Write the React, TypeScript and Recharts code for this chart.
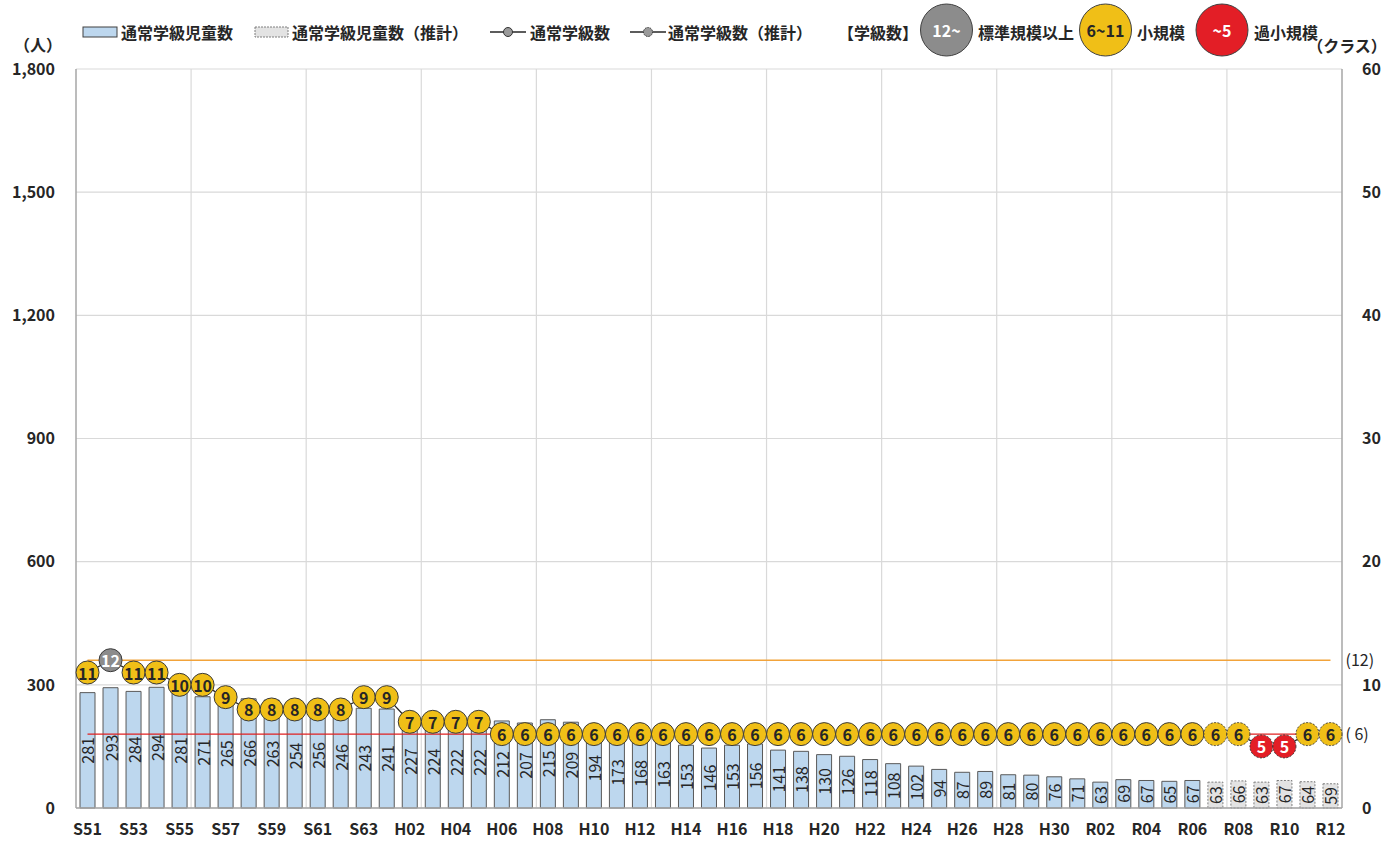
import React from 'react';
import {
  ComposedChart,
  Bar,
  Line,
  XAxis,
  YAxis,
  CartesianGrid,
  ReferenceLine,
  Cell,
  LabelList,
} from 'recharts';

const FONT = '"Noto Sans CJK JP", "Noto Sans", sans-serif';

const categories = [
  'S51', 'S52', 'S53', 'S54', 'S55', 'S56', 'S57', 'S58', 'S59', 'S60', 'S61', 'S62', 'S63',
  'H01', 'H02', 'H03', 'H04', 'H05', 'H06', 'H07', 'H08', 'H09', 'H10',
  'H11', 'H12', 'H13', 'H14', 'H15', 'H16', 'H17', 'H18', 'H19', 'H20',
  'H21', 'H22', 'H23', 'H24', 'H25', 'H26', 'H27', 'H28', 'H29', 'H30',
  'R01', 'R02', 'R03', 'R04', 'R05', 'R06', 'R07', 'R08', 'R09', 'R10', 'R11', 'R12',
];

const students = [
  281, 293, 284, 294, 281, 271, 265, 266, 263, 254, 256, 246, 243,
  241, 227, 224, 222, 222, 212, 207, 215, 209, 194,
  173, 168, 163, 153, 146, 153, 156, 141, 138, 130,
  126, 118, 108, 102, 94, 87, 89, 81, 80, 76,
  71, 63, 69, 67, 65, 67, 63, 66, 63, 67, 64, 59,
];

const classes = [
  11, 12, 11, 11, 10, 10, 9, 8, 8, 8, 8, 8, 9,
  9, 7, 7, 7, 7, 6, 6, 6, 6, 6,
  6, 6, 6, 6, 6, 6, 6, 6, 6, 6,
  6, 6, 6, 6, 6, 6, 6, 6, 6, 6,
  6, 6, 6, 6, 6, 6, 6, 6, 5, 5, 6, 6,
];

const estimateFrom = 'R07';
const leftTicks = [0, 300, 600, 900, 1200, 1500, 1800];
const rightTicks = [0, 10, 20, 30, 40, 50, 60];
const standardClasses = 12;
const minClasses = 6;
const gridEvery = 5;

const estStart = categories.indexOf(estimateFrom);
const data = categories.map((cat, i) => ({
  cat,
  students: students[i],
  classes: classes[i],
  est: i >= estStart,
}));

const GRAY = '#8c8c8c';
const YELLOW = '#f0bf17';
const RED = '#e31e26';
const BLUE = '#bdd7ee';
const EST_FILL = '#e3e3e3';

const classFill = (v: number) => (v >= 12 ? GRAY : v >= 6 ? YELLOW : RED);
const classText = (v: number) => (v >= 12 || v <= 5 ? '#ffffff' : '#262626');

const ClassDot = (props: any) => {
  const { cx, cy, index, payload } = props;
  if (cx == null || cy == null) return <g key={`d${index}`} />;
  const v = payload.classes;
  return (
    <g key={`d${index}`}>
      <circle
        cx={cx}
        cy={cy}
        r={11.5}
        fill={classFill(v)}
        stroke="#3a3a3a"
        strokeWidth={1}
        strokeDasharray={payload.est ? '2 1.5' : undefined}
      />
      <text
        x={cx}
        y={cy}
        textAnchor="middle"
        dominantBaseline="central"
        fontSize={16}
        fontWeight={700}
        fontFamily={FONT}
        fill={classText(v)}
      >
        {v}
      </text>
    </g>
  );
};

const BarLabel = (props: any) => {
  const { x, y, width, height, value, index } = props;
  const cx = Number(x) + Number(width) / 2;
  const cy = Number(y) + Number(height) / 2;
  return (
    <text
      key={`l${index}`}
      x={cx}
      y={cy}
      transform={`rotate(-90 ${cx} ${cy})`}
      textAnchor="middle"
      dominantBaseline="central"
      fontSize={16}
      fontFamily={FONT}
      fill="#262626"
    >
      {value}
    </text>
  );
};

const gridGen = ({ offset }: any) => {
  const step = offset.width / categories.length;
  const pts: number[] = [];
  for (let k = gridEvery; k < categories.length; k += gridEvery) pts.push(offset.left + step * k);
  return pts;
};

const tickStyle = { fontSize: 16, fontWeight: 700, fontFamily: FONT, fill: '#262626' };

const Legend = () => (
  <svg
    width={1400}
    height={62}
    style={{ position: 'absolute', left: 0, top: 0, pointerEvents: 'none' }}
    fontFamily={FONT}
  >
    <g fontSize={16} fontWeight={700} fill="#262626">
      <rect x={83} y={27} width={34} height={10} fill={BLUE} stroke="#404040" strokeWidth={1} />
      <text x={121} y={32} dominantBaseline="central">通常学級児童数</text>
      <rect x={255} y={27} width={33} height={10} fill={EST_FILL} stroke="#7f7f7f" strokeWidth={1} strokeDasharray="2 1" />
      <text x={292} y={32} dominantBaseline="central">通常学級児童数（推計）</text>
      <line x1={490} x2={526} y1={32} y2={32} stroke="#262626" strokeWidth={1.5} />
      <circle cx={508} cy={32} r={4.5} fill="#9a9a9a" stroke="#333" strokeWidth={1} />
      <text x={530} y={32} dominantBaseline="central">通常学級数</text>
      <line x1={630} x2={666} y1={32} y2={32} stroke="#262626" strokeWidth={1.5} />
      <circle cx={648} cy={32} r={4.5} fill="#9a9a9a" stroke="#333" strokeWidth={1} strokeDasharray="1.5 1" />
      <text x={668} y={32} dominantBaseline="central">通常学級数（推計）</text>
      <text x={838} y={32} dominantBaseline="central">【学級数】</text>
      <circle cx={946.5} cy={30} r={26} fill={GRAY} stroke="#404040" strokeWidth={1} />
      <text x={946.5} y={30} textAnchor="middle" dominantBaseline="central" fill="#ffffff">12~</text>
      <text x={978} y={32} dominantBaseline="central">標準規模以上</text>
      <circle cx={1105.5} cy={30} r={26} fill={YELLOW} stroke="#404040" strokeWidth={1} />
      <text x={1105.5} y={30} textAnchor="middle" dominantBaseline="central" fill="#262626">6~11</text>
      <text x={1137} y={32} dominantBaseline="central">小規模</text>
      <circle cx={1222} cy={30} r={26} fill={RED} stroke="#404040" strokeWidth={1} />
      <text x={1222} y={30} textAnchor="middle" dominantBaseline="central" fill="#ffffff">~5</text>
      <text x={1254} y={32} dominantBaseline="central">過小規模</text>
      <text x={38} y={44} textAnchor="middle" dominantBaseline="central">（人）</text>
      <text x={1347} y={45} textAnchor="middle" dominantBaseline="central">（クラス）</text>
    </g>
  </svg>
);

export default function App() {
  return (
    <div style={{ position: 'absolute', left: 0, top: 0, width: 1400, height: 841, background: '#fff', fontFamily: FONT }}>
      <ComposedChart
        width={1400}
        height={841}
        data={data}
        margin={{ top: 69, right: 8, bottom: 3, left: 16 }}
      >
        <CartesianGrid
          stroke="#d9d9d9"
          strokeWidth={1.2}
          verticalCoordinatesGenerator={gridGen}
          yAxisId="left"
        />
        <XAxis
          dataKey="cat"
          interval={1}
          tickSize={0}
          tickMargin={16}
          height={30}
          tick={tickStyle}
          axisLine={{ stroke: '#a6a6a6', strokeWidth: 1.5 }}
        />
        <YAxis
          yAxisId="left"
          domain={[0, 1800]}
          ticks={leftTicks}
          width={60}
          tickSize={0}
          tickMargin={21}
          tick={tickStyle}
          tickFormatter={(v: number) => v.toLocaleString('en-US')}
          axisLine={{ stroke: '#a6a6a6', strokeWidth: 1.5 }}
        />
        <YAxis
          yAxisId="right"
          orientation="right"
          domain={[0, 60]}
          ticks={rightTicks}
          width={50}
          tickSize={0}
          tickMargin={20}
          tick={{ ...tickStyle, textAnchor: 'start' }}
          axisLine={{ stroke: '#a6a6a6', strokeWidth: 1.5 }}
        />
        <Bar yAxisId="left" dataKey="students" barSize={15} isAnimationActive={false}>
          {data.map((d, i) => (
            <Cell
              key={`c${i}`}
              fill={d.est ? EST_FILL : BLUE}
              stroke={d.est ? '#7f7f7f' : '#595959'}
              strokeWidth={1}
              strokeDasharray={d.est ? '2 1.5' : undefined}
            />
          ))}
          <LabelList dataKey="students" content={BarLabel} />
        </Bar>
        <ReferenceLine
          yAxisId="right"
          segment={[
            { x: categories[0], y: standardClasses },
            { x: categories[categories.length - 1], y: standardClasses },
          ]}
          stroke="#f2a33a"
          strokeWidth={1.5}
          label={{ value: '(12)', position: 'right', offset: 15, fill: '#262626', fontSize: 16, fontFamily: FONT }}
        />
        <Line
          yAxisId="right"
          dataKey="classes"
          stroke="#262626"
          strokeWidth={1.3}
          dot={ClassDot}
          activeDot={false}
          isAnimationActive={false}
        />
        <ReferenceLine
          yAxisId="right"
          segment={[
            { x: categories[0], y: minClasses },
            { x: categories[categories.length - 1], y: minClasses },
          ]}
          stroke="#e02020"
          strokeWidth={1.3}
          label={{ value: '( 6)', position: 'right', offset: 15, fill: '#262626', fontSize: 16, fontFamily: FONT }}
        />
      </ComposedChart>
      <Legend />
    </div>
  );
}
